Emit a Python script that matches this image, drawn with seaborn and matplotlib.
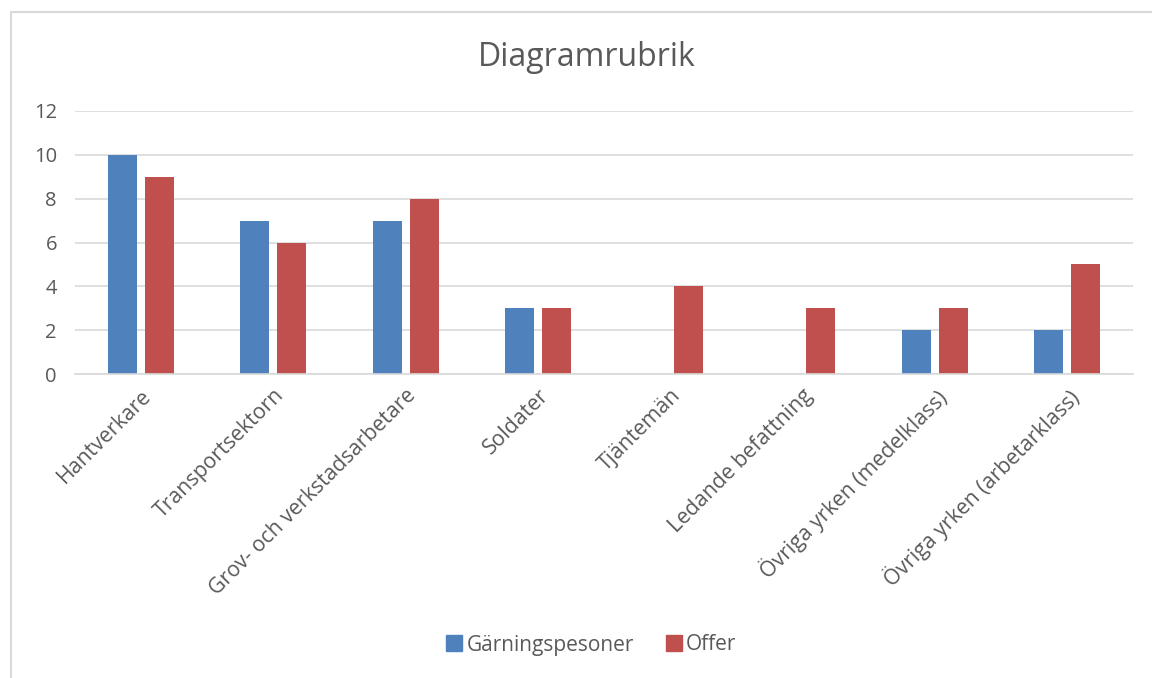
import matplotlib
matplotlib.use("Agg")
import matplotlib.pyplot as plt
import seaborn as sns
import pandas as pd
from matplotlib.lines import Line2D

kategorier = ["Hantverkare", "Transportsektorn", "Grov- och verkstadsarbetare", "Soldater",
              "Tjäntemän", "Ledande befattning", "Övriga yrken (medelklass)",
              "Övriga yrken (arbetarklass)"]
garningspersoner = [10, 7, 7, 3, 0, 0, 2, 2]
offer = [9, 6, 8, 3, 4, 3, 3, 5]
serier = ["Gärningspesoner", "Offer"]
farger = ["#4f81bd", "#c0504d"]

df = pd.DataFrame({
    "Kategori": kategorier * 2,
    "Serie": [serier[0]] * len(kategorier) + [serier[1]] * len(kategorier),
    "Antal": garningspersoner + offer,
})

sns.set_style("white")
plt.rcParams["font.family"] = ["Open Sans", "DejaVu Sans"]
textfarg = "#595959"
gridfarg = "#d9d9d9"

fig = plt.figure(figsize=(11.52, 6.78), dpi=100)
ax = fig.add_axes([75 / 1152, 1 - 374 / 678, 1058 / 1152, 263 / 678])

sns.barplot(data=df, x="Kategori", y="Antal", hue="Serie", palette=farger,
            width=0.56, gap=0.22, ax=ax, legend=False, saturation=1, linewidth=0)

ax.set_ylim(0, 12)
ax.set_yticks(range(0, 13, 2))
ax.set_xlim(-0.5, len(kategorier) - 0.5)
ax.grid(axis="y", color=gridfarg, linewidth=1.2)
ax.set_axisbelow(True)
for s in ["top", "right", "left"]:
    ax.spines[s].set_visible(False)
ax.spines["bottom"].set_color(gridfarg)
ax.spines["bottom"].set_linewidth(1.2)
ax.set_xlabel("")
ax.set_ylabel("")
ax.tick_params(axis="both", length=0, colors=textfarg, labelsize=14.5)
ax.tick_params(axis="x", labelsize=15.3, pad=8)
ax.tick_params(axis="y", pad=13)
plt.setp(ax.get_xticklabels(), rotation=45, ha="right", rotation_mode="anchor")

fig.text(587 / 1152, 1 - 57 / 678, "Diagramrubrik", ha="center", va="center",
         fontsize=23, color=textfarg)

handles = [Line2D([], [], marker="s", linestyle="", markersize=12,
                  markerfacecolor=c, markeredgecolor=c) for c in farger]
fig.legend(handles, serier, loc="center", bbox_to_anchor=(590 / 1152, 1 - 645 / 678),
           ncol=2, frameon=False, fontsize=15, labelcolor=textfarg,
           handletextpad=0.1, columnspacing=1.4, handlelength=1.0)

# ram runt diagrammet
fig.add_artist(Line2D([11 / 1152, 11 / 1152], [0, 1 - 12 / 678], color=gridfarg,
                      linewidth=1.5, transform=fig.transFigure))
fig.add_artist(Line2D([11 / 1152, 1], [1 - 12 / 678, 1 - 12 / 678], color=gridfarg,
                      linewidth=1.5, transform=fig.transFigure))

fig.savefig("out.png", dpi=100, facecolor="white")
